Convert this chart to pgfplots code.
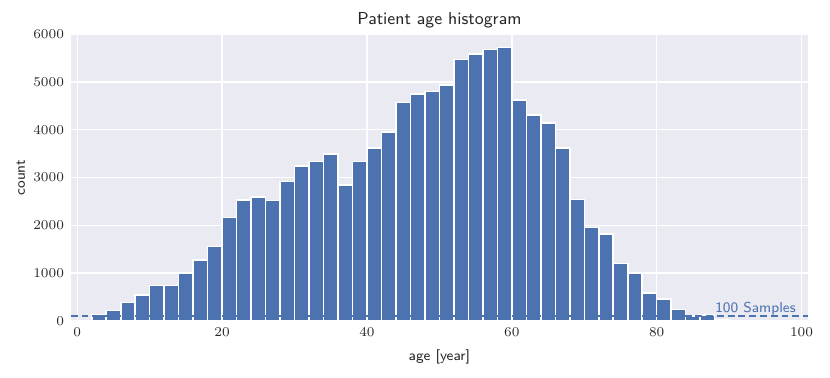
\documentclass[border=0pt]{standalone}
\usepackage{pgfplots}
\pgfplotsset{compat=1.18}
\definecolor{sbblue}{HTML}{4C72B0}
\definecolor{sbbg}{HTML}{EAEAF2}
\definecolor{sbtext}{HTML}{262626}
\begin{document}
\begin{tikzpicture}
% frame of the whole picture (plot area is 383.4pt x 149.2pt at the origin)
\useasboundingbox (-36.8pt,-29.6pt) rectangle (394.8pt,166.9pt);
\begin{axis}[
  scale only axis,
  width=383.4pt, height=149.2pt,
  xmin=-0.9, xmax=100.9, ymin=0, ymax=6000,
  xtick={0,20,...,100}, ytick={0,1000,...,6000},
  scaled ticks=false,
  /pgf/number format/set thousands separator={},
  axis background/.style={fill=sbbg},
  axis line style={draw=none},
  tick style={draw=none},
  grid=major,
  major grid style={white, line width=0.7pt},
  ticklabel style={font=\fontsize{7.5}{9}\selectfont, text=sbtext},
  xlabel={age [year]},
  ylabel={count},
  label style={font=\sffamily\fontsize{7.5}{9}\selectfont, text=sbtext},
  ylabel style={xshift=0pt, yshift=-2.6pt},
  title={Patient age histogram},
  title style={font=\sffamily\fontsize{9}{11}\selectfont, text=sbtext, yshift=-6.5pt},
]
\addplot[ybar interval, fill=sbblue, draw=white, line width=0.8pt] coordinates {
(2,136) (4,220) (6,387) (8,548) (10,743) (12,743) (14,994) (16,1272) (18,1558)
(20,2159) (22,2527) (24,2590) (26,2521) (28,2912) (30,3239) (32,3337) (34,3490)
(36,2849) (38,3337) (40,3615) (42,3950) (44,4571) (46,4745) (48,4795) (50,4933)
(52,5464) (54,5582) (56,5680) (58,5715) (60,4620) (62,4305) (64,4138) (66,3615)
(68,2542) (70,1950) (72,1824) (74,1197) (76,994) (78,582) (80,456) (82,241)
(84,109) (86,121) (88,31) (90,12) (92,0)
};
\addplot[sbblue, line width=1.1pt, dash pattern=on 3.6pt off 2pt] coordinates {(-0.9,100) (100.9,100)};
\node[anchor=south west, inner sep=0.5pt, text=sbblue, font=\sffamily\fontsize{7.5}{9}\selectfont] at (axis cs:87.9,100) {100 Samples};
\end{axis}
\end{tikzpicture}
\end{document}
